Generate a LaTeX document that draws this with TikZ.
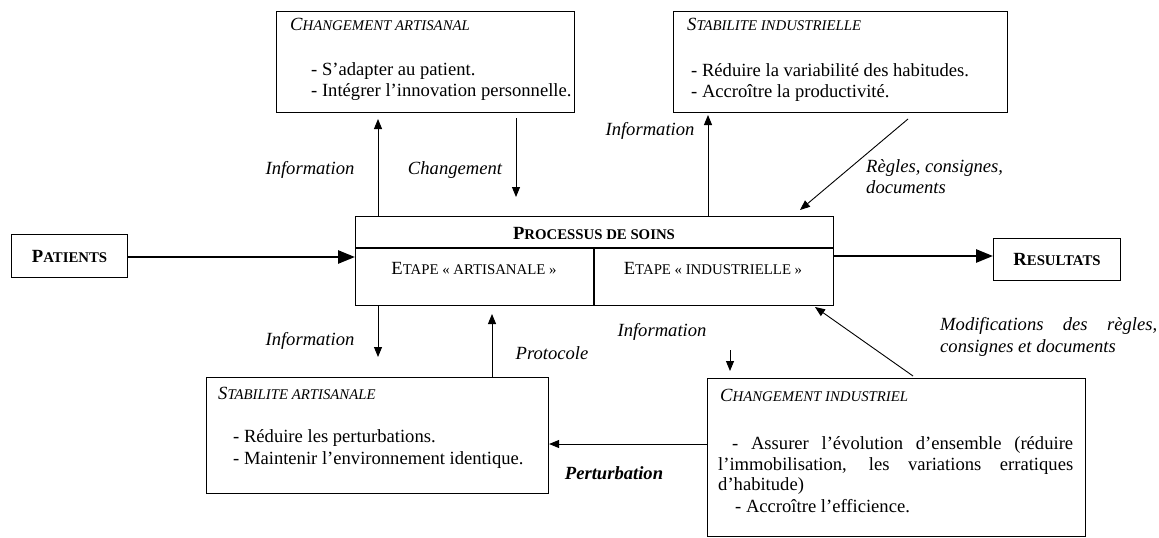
\documentclass[tikz,border=0pt]{standalone}
\usepackage{fontspec}
\setmainfont{Liberation Serif}
\usetikzlibrary{arrows.meta}
\newcommand\fsc[2]{#1{\fontsize{14.8}{15}\selectfont #2}}
\begin{document}
\begin{tikzpicture}[x=1pt,y=-1pt,
  every node/.style={font=\fontsize{18.6}{22}\selectfont, inner sep=0pt},
  box/.style={draw, line width=1.1pt, anchor=north west},
  arr/.style={-{Triangle[length=10pt,width=8pt]}, line width=0.9pt},
  bigarr/.style={-{Triangle[length=17pt,width=13pt]}, line width=2.6pt},
  lbl/.style={font=\fontsize{18.6}{22}\selectfont\itshape},
  txt/.style={anchor=mid west}]
\fill[white] (0,0) rectangle (1159,538);
% boxes
\node[box, minimum width=298pt, minimum height=101pt] (ca) at (276,11) {};
\node[box, minimum width=334pt, minimum height=101pt] (si) at (673,11) {};
\node[box, minimum width=478pt, minimum height=89pt] (proc) at (355,216) {};
\node[box, minimum width=116pt, minimum height=43pt] (pat) at (11,234) {};
\node[box, minimum width=127pt, minimum height=42pt] (res) at (993,238) {};
\node[box, minimum width=342pt, minimum height=116pt] (sa) at (206,377) {};
\node[box, minimum width=378pt, minimum height=158pt] (ci) at (707,378) {};
% process inner lines
\coordinate (dl) at (355,248);
\coordinate (dv) at (594,248);
\draw[line width=1.1pt] (proc.west |- dl) -- (proc.east |- dl);
\draw[line width=1.1pt] (dv) -- (dv |- proc.south);
% texts in boxes
\node[txt] (ca-t) at (290,28) {\itshape\fsc{C}{HANGEMENT ARTISANAL}};
\node[txt] (ca-1) at (311,73) {- S’adapter au patient.};
\node[txt] (ca-2) at (311,94) {- Intégrer l’innovation personnelle.};
\node[txt] (si-t) at (687,28) {\itshape\fsc{S}{TABILITE INDUSTRIELLE}};
\node[txt] (si-1) at (691,74) {- Réduire la variabilité des habitudes.};
\node[txt] (si-2) at (691,95) {- Accroître la productivité.};
\node (proc-t) at (594,233) {\bfseries\fsc{P}{ROCESSUS DE SOINS}};
\node (etA) at (474,268) {\fsc{E}{TAPE «~ARTISANALE~»}};
\node (etI) at (713,268) {\fsc{E}{TAPE «~INDUSTRIELLE~»}};
\node (pat-t) at (pat.center) {\bfseries\fsc{P}{ATIENTS}};
\node (res-t) at (res.center) {\bfseries\fsc{R}{ESULTATS}};
\node[txt] (sa-t) at (218,397) {\itshape\fsc{S}{TABILITE ARTISANALE}};
\node[txt] (sa-1) at (233,440) {- Réduire les perturbations.};
\node[txt] (sa-2) at (233,462) {- Maintenir l’environnement identique.};
\node[txt] (ci-t) at (720,399) {\itshape\fsc{C}{HANGEMENT INDUSTRIEL}};
\node[txt] (ci-1) at (732,447) {\makebox[341pt][s]{- Assurer l’évolution d’ensemble (réduire}};
\node[txt] (ci-2) at (718,468) {\makebox[355pt][s]{l’immobilisation, les variations erratiques}};
\node[txt] (ci-3) at (718,488) {d’habitude)};
\node[txt] (ci-4) at (735,510) {- Accroître l’efficience.};
% labels
\node[lbl] (l-info1) at (310,170) {Information};
\node[lbl] (l-chg) at (455,170) {Changement};
\node[lbl] (l-info2) at (650,131) {Information};
\node[lbl, anchor=mid west] (l-reg1) at (866,170) {Règles, consignes,};
\node[lbl, anchor=mid west] (l-reg2) at (866,191) {documents};
\node[lbl] (l-info3) at (310,341) {Information};
\node[lbl] (l-prot) at (552,353) {Protocole};
\node[lbl] (l-info4) at (662,332) {Information};
\node[lbl, anchor=mid west] (l-mod1) at (940,328) {\makebox[217pt][s]{Modifications des règles,}};
\node[lbl, anchor=mid west] (l-mod2) at (940,350) {consignes et documents};
\node[lbl] (l-pert) at (614,473) {\bfseries Perturbation};
% arrows
\coordinate (a1) at (378,119);
\draw[arr] (a1 |- proc.north) -- (a1);
\coordinate (a2s) at (516,118);
\coordinate (a2e) at (516,197);
\draw[arr] (a2s) -- (a2e);
\coordinate (a3) at (708,115);
\draw[arr] (a3 |- proc.north) -- (a3);
\coordinate (a4s) at (908,119);
\coordinate (a4e) at (800,210);
\draw[arr] (a4s) -- (a4e);
\coordinate (pp) at (0,257);
\draw[bigarr] (pat.east |- pp) -- (proc.west |- pp);
\coordinate (rr) at (0,256);
\draw[bigarr] (proc.east |- rr) -- (res.west |- rr);
\coordinate (a5) at (378,357);
\draw[arr] (a5 |- proc.south) -- (a5);
\coordinate (a6) at (492,314);
\draw[arr] (a6 |- sa.north) -- (a6);
\coordinate (a7s) at (730,350);
\coordinate (a7e) at (730,371);
\draw[arr] (a7s) -- (a7e);
\coordinate (a8s) at (913,376);
\coordinate (a8e) at (815,307);
\draw[arr] (a8s) -- (a8e);
\coordinate (pq) at (0,444);
\draw[arr] (ci.west |- pq) -- (sa.east |- pq);
\end{tikzpicture}
\end{document}
